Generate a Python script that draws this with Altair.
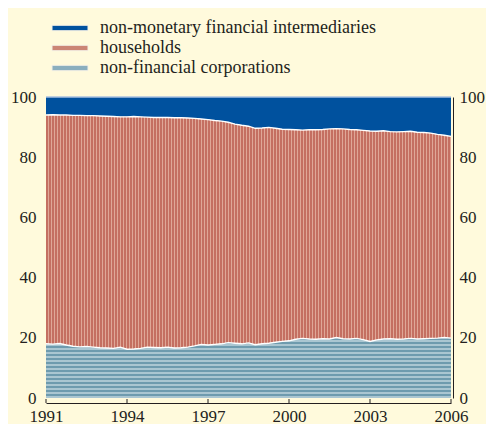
import altair as alt
import pandas as pd

# quarterly observations, 1991 Q1 .. 2006 Q1
quarters = [1991 + i / 4 for i in range(61)]

series_names = [
    "non-financial corporations",
    "households",
    "non-monetary financial intermediaries",
]

corporations = [
    18.0, 17.9, 18.1, 17.6, 17.2, 17.0, 17.1, 16.9, 16.7, 16.6, 16.5, 16.9,
    16.2, 16.3, 16.5, 16.9, 16.8, 16.7, 16.9, 16.6, 16.7, 16.9, 17.3, 17.8,
    17.6, 17.8, 18.0, 18.4, 18.2, 18.0, 18.3, 17.7, 18.0, 18.2, 18.5, 18.8,
    19.0, 19.5, 19.8, 19.6, 19.5, 19.7, 19.6, 20.1, 19.7, 19.6, 19.8, 19.4,
    18.8, 19.3, 19.6, 19.7, 19.5, 19.6, 19.8, 19.6, 19.7, 19.8, 19.9, 20.1,
    19.9,
]

households = [
    76.0, 76.2, 75.9, 76.4, 76.7, 76.9, 76.7, 76.9, 77.0, 77.0, 77.0, 76.5,
    77.2, 77.2, 76.9, 76.4, 76.4, 76.5, 76.3, 76.5, 76.4, 76.1, 75.6, 74.9,
    74.9, 74.4, 74.0, 73.2, 72.8, 72.6, 72.0, 71.9, 71.7, 71.7, 71.1, 70.5,
    70.2, 69.6, 69.2, 69.5, 69.6, 69.5, 69.8, 69.4, 69.7, 69.6, 69.3, 69.5,
    69.9, 69.3, 69.2, 68.8, 68.9, 68.9, 68.8, 68.7, 68.5, 68.2, 67.7, 67.2,
    67.0,
]

nonmonetary = [
    6.0, 5.9, 6.0, 6.0, 6.1, 6.1, 6.2, 6.2, 6.3, 6.4, 6.5, 6.6,
    6.6, 6.5, 6.6, 6.7, 6.8, 6.8, 6.8, 6.9, 6.9, 7.0, 7.1, 7.3,
    7.5, 7.8, 8.0, 8.4, 9.0, 9.4, 9.7, 10.4, 10.3, 10.1, 10.4, 10.7,
    10.8, 10.9, 11.0, 10.9, 10.9, 10.8, 10.6, 10.5, 10.6, 10.8, 10.9, 11.1,
    11.3, 11.4, 11.2, 11.5, 11.6, 11.5, 11.4, 11.7, 11.8, 12.0, 12.4, 12.7,
    13.1,
]

year_ticks = [1991, 1994, 1997, 2000, 2003, 2006]
y_ticks = [0, 20, 40, 60, 80, 100]

rows = []
for order, (name, vals) in enumerate(zip(series_names, [corporations, households, nonmonetary])):
    for q, v in zip(quarters, vals):
        rows.append({"date": q, "series": name, "value": v, "order": order})
df = pd.DataFrame(rows)
ticks_df = pd.DataFrame({"year": year_ticks})

# ---- style ----
W, H = 405, 301
BG = "#FFFADC"
FONT = "Liberation Serif, Times New Roman, DejaVu Serif, serif"
TXT = "#231F20"
FS = 17
LFS = 18
BLUE = "#00519E"
RED_D, RED_L = "#C46F61", "#DFA797"
GRY_D, GRY_L = "#6E9BAE", "#AAC6D1"


def stripes(c1, c2, n, frac, along_x):
    stops = []
    for i in range(n):
        a = i / n
        b = (i + frac) / n
        c = (i + 1) / n
        stops += [
            alt.GradientStop(offset=a, color=c1),
            alt.GradientStop(offset=b, color=c1),
            alt.GradientStop(offset=b, color=c2),
            alt.GradientStop(offset=min(c, 1.0), color=c2),
        ]
    if along_x:
        return alt.LinearGradient(gradient="linear", stops=stops, x1=0, x2=1, y1=0, y2=0)
    return alt.LinearGradient(gradient="linear", stops=stops, x1=0, x2=0, y1=0, y2=1)


red_fill = stripes(RED_D, RED_L, 135, 2 / 3, True)
grey_fill = stripes(GRY_D, GRY_L, 15, 0.5, False)

base = alt.Chart(df).transform_stack(
    stack="value", groupby=["date"], as_=["y0", "y1"],
    sort=[alt.SortField("order", order="ascending")],
)

xscale = alt.Scale(domain=[1991, 2006], nice=False, zero=False)
yscale = alt.Scale(domain=[0, 100], nice=False, zero=True)

x_axis = alt.Axis(
    values=year_ticks, format="d", title=None, grid=False, ticks=False,
    domain=True, domainColor=TXT, domainWidth=1, offset=5, labelPadding=5,
    labelFlush=False, labelOverlap=False,
    labelFont=FONT, labelFontSize=FS, labelColor=TXT,
)
left_axis = alt.Axis(
    values=y_ticks, title=None, grid=False, ticks=False, domain=False,
    labelPadding=10, labelFlush=False,
    labelFont=FONT, labelFontSize=FS, labelColor=TXT,
)
right_axis = alt.Axis(
    orient="right", values=y_ticks, title=None, grid=False, ticks=False,
    domain=True, domainColor=TXT, domainWidth=1, offset=2, labelPadding=6,
    labelFlush=False,
    labelFont=FONT, labelFontSize=FS, labelColor=TXT, labelAlign="left",
)

legend = alt.Legend(
    title=None, orient="none", legendX=15, legendY=-78, padding=0,
    symbolType="M-6,-0.9H6V0.9H-6Z", symbolSize=36, symbolStrokeWidth=1,
    symbolStrokeColor="#F4F1E6", symbolOpacity=1,
    labelFont=FONT, labelFontSize=LFS, labelColor=TXT, labelOffset=21,
    labelLimit=0, rowPadding=2,
)

xenc = alt.X("date:Q", scale=xscale)

solid = base.mark_area().encode(
    x=alt.X("date:Q", scale=xscale, axis=x_axis),
    y=alt.Y("y0:Q", scale=yscale, axis=left_axis, stack=None),
    y2="y1:Q",
    color=alt.Color(
        "series:N",
        scale=alt.Scale(
            domain=[series_names[2], series_names[1], series_names[0]],
            range=[BLUE, "#CB8575", "#8AAEBE"],
        ),
        legend=legend,
    ),
)

red_area = base.transform_filter(alt.datum.order == 1).mark_area(color=red_fill).encode(
    x=xenc,
    y=alt.Y("y0:Q", scale=yscale, axis=None, stack=None),
    y2="y1:Q",
)

grey_area = base.transform_filter(alt.datum.order == 0).mark_area(color=grey_fill).encode(
    x=xenc,
    y=alt.Y("y0:Q", scale=yscale, axis=None, stack=None),
    y2="y1:Q",
)

edges = base.transform_filter(alt.datum.order < 2).mark_line(
    color="#FFFFFF", strokeWidth=1.4
).encode(
    x=xenc,
    y=alt.Y("y1:Q", scale=yscale, axis=None, stack=None),
    detail="series:N",
)

top_edge = base.transform_filter(alt.datum.order == 2).mark_line(
    color="#A9C1E0", strokeWidth=1.4
).encode(
    x=xenc,
    y=alt.Y("y1:Q", scale=yscale, axis=right_axis, stack=None),
)

tick_marks = alt.Chart(ticks_df).mark_rule(color=TXT, strokeWidth=1).encode(
    x=alt.X("year:Q", scale=xscale),
    y=alt.value(H + 1),
    y2=alt.value(H + 5),
)

chart = (
    alt.layer(solid, red_area, grey_area, edges, top_edge, tick_marks)
    .resolve_scale(y="independent")
    .properties(
        width=W, height=H, background=BG, autosize="none",
        padding={"left": 38, "top": 89, "right": 35, "bottom": 26},
    )
    .configure_view(stroke=None)
)

chart.save("out.html", embed_options={"renderer": "svg", "actions": False})
